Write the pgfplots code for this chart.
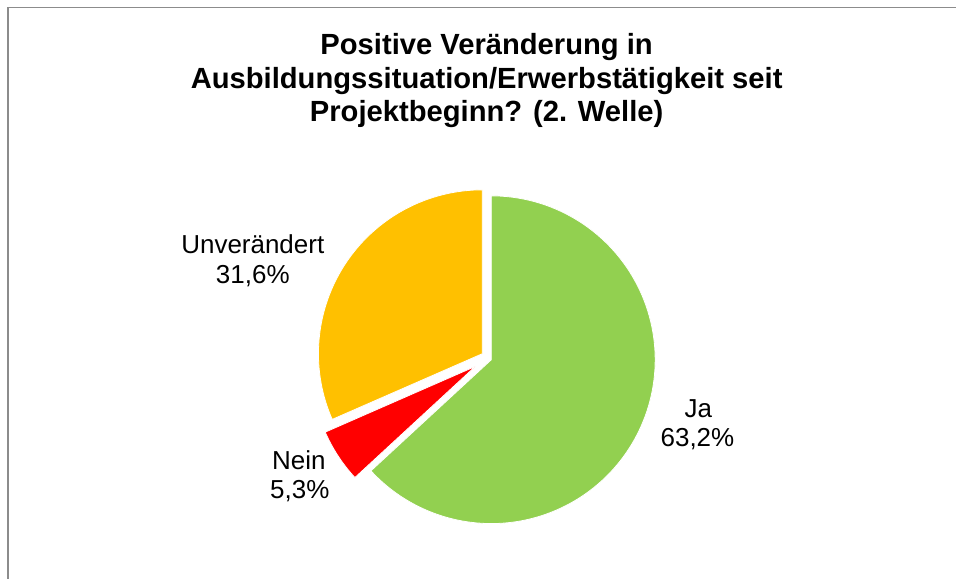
\documentclass[border=0pt]{standalone}
\usepackage{pgfplots}
\usepackage{pgfplotstable}
\pgfplotsset{compat=1.18}
\usepackage{fontspec}
\setmainfont{Liberation Sans}
\definecolor{jagreen}{HTML}{92D050}
\definecolor{neinred}{HTML}{FF0000}
\definecolor{unvorange}{HTML}{FFC000}
\definecolor{framegray}{HTML}{8C8C8C}

% share (percent), explosion offset of the slice apex (px)
\pgfplotstableread{
label        value  dx     dy
Ja           63.2   0.0    0.0
Nein         5.3    -16.0  -6.7
Unveraendert 31.6   -9.0   6.0
}\piedata

\pgfplotstablegetelem{0}{value}\of\piedata \let\vJa\pgfplotsretval
\pgfplotstablegetelem{1}{value}\of\piedata \let\vNein\pgfplotsretval
\pgfplotstablegetelem{2}{value}\of\piedata \let\vUnv\pgfplotsretval
\pgfplotstablegetelem{1}{dx}\of\piedata \let\dxNein\pgfplotsretval
\pgfplotstablegetelem{1}{dy}\of\piedata \let\dyNein\pgfplotsretval
\pgfplotstablegetelem{2}{dx}\of\piedata \let\dxUnv\pgfplotsretval
\pgfplotstablegetelem{2}{dy}\of\piedata \let\dyUnv\pgfplotsretval

\pgfmathsetmacro{\tot}{\vJa+\vNein+\vUnv}
\pgfmathsetmacro{\aA}{90}
\pgfmathsetmacro{\aB}{90-3.6*(\vJa*100/\tot)}
\pgfmathsetmacro{\aC}{\aB-3.6*(\vNein*100/\tot)}
\pgfmathsetmacro{\aD}{\aC-3.6*(\vUnv*100/\tot)}
\def\cx{491.7}
\def\cy{219}
\def\R{164}

\begin{document}
\begin{tikzpicture}
\begin{axis}[hide axis, scale only axis, width=957bp, height=579bp,
  xmin=0, xmax=957, ymin=0, ymax=579, clip=false]
\path (axis cs:0,0) rectangle (axis cs:957,579);
\draw[framegray, line width=1.5bp] (axis cs:8,0) -- (axis cs:8,571.7) -- (axis cs:957,571.7);

% Ja
\addplot[fill=jagreen, draw=white, line width=0.8bp, domain=\aB:\aA, samples=120, variable=\t]
  ({\cx+\R*cos(\t)}, {\cy+\R*sin(\t)}) -- (axis cs:\cx,\cy) -- cycle;
% Nein
\addplot[fill=neinred, draw=white, line width=0.8bp, domain=\aC:\aB, samples=30, variable=\t]
  ({\cx+\dxNein+\R*cos(\t)}, {\cy+\dyNein+\R*sin(\t)}) -- (axis cs:\cx+\dxNein,\cy+\dyNein) -- cycle;
% Unveraendert
\addplot[fill=unvorange, draw=white, line width=0.8bp, domain=\aD:\aC, samples=80, variable=\t]
  ({\cx+\dxUnv+\R*cos(\t)}, {\cy+\dyUnv+\R*sin(\t)}) -- (axis cs:\cx+\dxUnv,\cy+\dyUnv) -- cycle;

% title
\begin{scope}[every node/.style={anchor=base, inner sep=0pt, font=\fontsize{29.2bp}{33bp}\selectfont\bfseries}]
\node at (axis cs:487,524) {Positive Veränderung in};
\node at (axis cs:487,490.7) {Ausbildungssituation/Erwerbstätigkeit seit};
\node at (axis cs:487,457.3) {Projektbeginn? (2. Welle)};
\end{scope}

% data labels
\begin{scope}[every node/.style={anchor=base, inner sep=0pt, font=\fontsize{26bp}{30bp}\selectfont}]
\node at (axis cs:253,325.7) {Unverändert};
\node at (axis cs:253,295.7) {31,6\%};
\node at (axis cs:299,109) {Nein};
\node at (axis cs:300,80) {5,3\%};
\node at (axis cs:699,160.7) {Ja};
\node at (axis cs:698,132.3) {63,2\%};
\end{scope}
\end{axis}
\end{tikzpicture}
\end{document}
